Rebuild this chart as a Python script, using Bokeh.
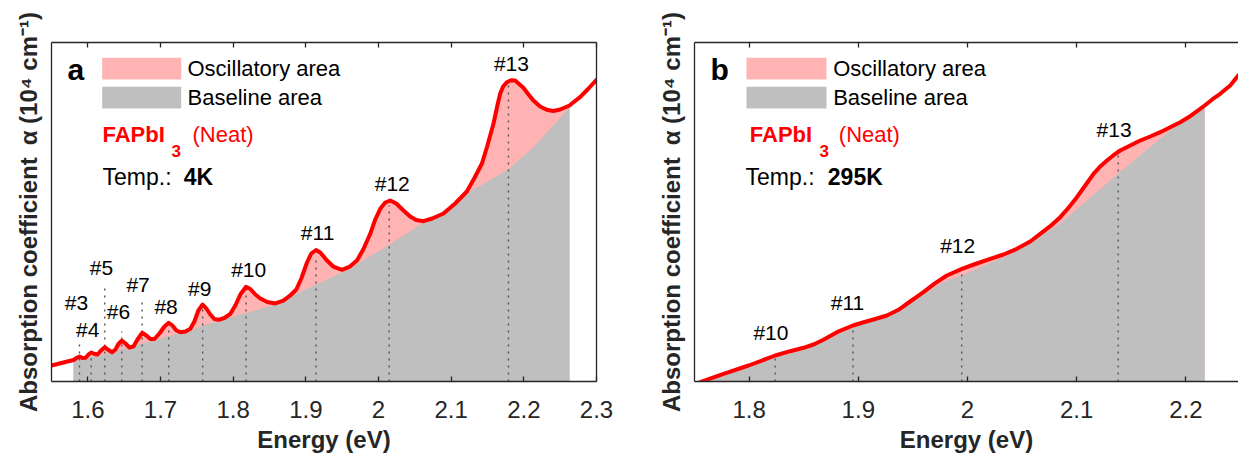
from bokeh.core.properties import value
from bokeh.embed import file_html
from bokeh.layouts import row
from bokeh.models import FixedTicker, Label, LinearAxis, Range1d
from bokeh.plotting import figure
from bokeh.resources import INLINE

# ---------------- panel a : FAPbI3 at 4 K ----------------
energy_4k = [1.5500, 1.5596, 1.5706, 1.5803, 1.5844, 1.5885, 1.5926, 1.5968, 1.6009, 1.6046,
             1.6084, 1.6133, 1.6181, 1.6233, 1.6284, 1.6335, 1.6380, 1.6421, 1.6467, 1.6518,
             1.6573, 1.6628, 1.6683, 1.6747, 1.6806, 1.6861, 1.6916, 1.6985, 1.7054, 1.7113,
             1.7164, 1.7219, 1.7274, 1.7343, 1.7411, 1.7466, 1.7521, 1.7580, 1.7631, 1.7686,
             1.7741, 1.7800, 1.7879, 1.7961, 1.8030, 1.8099, 1.8177, 1.8236, 1.8305, 1.8374,
             1.8470, 1.8580, 1.8690, 1.8786, 1.8869, 1.8938, 1.9016, 1.9075, 1.9140, 1.9199,
             1.9291, 1.9378, 1.9497, 1.9598, 1.9703, 1.9790, 1.9886, 1.9955, 2.0024, 2.0093,
             2.0161, 2.0244, 2.0344, 2.0436, 2.0519, 2.0619, 2.0739, 2.0894, 2.1055, 2.1216,
             2.1316, 2.1422, 2.1495, 2.1582, 2.1633, 2.1674, 2.1715, 2.1766, 2.1825, 2.1880,
             2.1935, 2.1994, 2.2059, 2.2132, 2.2224, 2.2316, 2.2407, 2.2499, 2.2629, 2.2678,
             2.2774, 2.2884, 2.3000]
alpha_4k = [0.472, 0.522, 0.584, 0.634, 0.693, 0.737, 0.693, 0.699, 0.796, 0.855,
            0.817, 0.796, 0.914, 1.012, 0.929, 0.864, 0.944, 1.106, 1.209, 1.121,
            1.003, 1.032, 1.239, 1.437, 1.357, 1.254, 1.254, 1.416, 1.622, 1.732,
            1.652, 1.504, 1.454, 1.475, 1.555, 1.770, 2.094, 2.271, 2.153, 1.976,
            1.844, 1.820, 1.873, 1.997, 2.242, 2.566, 2.794, 2.729, 2.566, 2.448,
            2.345, 2.301, 2.389, 2.537, 2.714, 3.038, 3.510, 3.776, 3.879, 3.805,
            3.569, 3.392, 3.295, 3.378, 3.569, 3.894, 4.357, 4.779, 5.094, 5.280,
            5.339, 5.251, 5.044, 4.867, 4.764, 4.729, 4.808, 4.956, 5.251, 5.605,
            5.988, 6.422, 6.932, 7.602, 8.112, 8.487, 8.702, 8.829, 8.888, 8.879,
            8.776, 8.664, 8.481, 8.289, 8.112, 8.015, 7.979, 8.024, 8.142, 8.230,
            8.386, 8.628, 8.900]
baseline_energy_4k = [1.5803, 1.6174, 1.6628, 1.7095, 1.7549, 1.8003, 1.8470, 1.8580, 1.8924,
                      1.9144, 1.9611, 2.0161, 2.0615, 2.0890, 2.1220, 2.1784, 2.2128, 2.2629]
baseline_alpha_4k = [0.634, 0.767, 1.047, 1.327, 1.622, 1.917, 2.198, 2.286, 2.640,
                     2.861, 3.333, 4.056, 4.680, 4.920, 5.550, 6.254, 6.903, 8.083]
fill_span_4k = (1.5803, 2.2629)
peak_names_4k = ["#3", "#4", "#5", "#6", "#7", "#8", "#9", "#10", "#11", "#12", "#13"]
peak_energy_4k = [1.5885, 1.6046, 1.6233, 1.6467, 1.6747, 1.7113, 1.7580, 1.8177, 1.9140, 2.0147, 2.1788]
peak_guide_top_4k = [1.209, 1.003, 2.891, 1.475, 2.389, 1.593, 2.153, 2.743, 3.717, 5.190, 8.790]
name_energy_4k = [1.5844, 1.5999, 1.6188, 1.6421, 1.6692, 1.7077, 1.7539, 1.8213, 1.9162, 2.0189, 2.1829]
name_alpha_4k = [2.339, 1.534, 3.372, 2.074, 2.861, 2.212, 2.752, 3.295, 4.404, 5.832, 9.372]
ticks_4k = [1.6, 1.7, 1.8, 1.9, 2.0, 2.1, 2.2, 2.3]
tick_labels_4k = ["1.6", "1.7", "1.8", "1.9", "2", "2.1", "2.2", "2.3"]

# ---------------- panel b : FAPbI3 at 295 K ----------------
energy_295k = [1.7552, 1.7766, 1.7995, 1.8117, 1.8239, 1.8376, 1.8498, 1.8590, 1.8681, 1.8804,
               1.8951, 1.9033, 1.9139, 1.9262, 1.9368, 1.9475, 1.9597, 1.9704, 1.9811, 1.9949,
               2.0071, 2.0208, 2.0330, 2.0452, 2.0574, 2.0666, 2.0773, 2.0849, 2.0925, 2.1002,
               2.1078, 2.1154, 2.1215, 2.1277, 2.1337, 2.1398, 2.1490, 2.1582, 2.1673, 2.1765,
               2.1856, 2.1948, 2.2039, 2.2131, 2.2172, 2.2241, 2.2314, 2.2406, 2.2479]
alpha_295k = [-0.021, 0.227, 0.472, 0.619, 0.767, 0.894, 0.994, 1.091, 1.230, 1.454,
              1.652, 1.732, 1.829, 1.947, 2.115, 2.360, 2.634, 2.900, 3.127, 3.324,
              3.466, 3.619, 3.746, 3.914, 4.130, 4.357, 4.622, 4.847, 5.124, 5.437,
              5.782, 6.127, 6.342, 6.519, 6.676, 6.814, 6.962, 7.109, 7.227, 7.354,
              7.501, 7.649, 7.826, 8.044, 8.142, 8.319, 8.487, 8.732, 9.027]
baseline_energy_295k = [1.7552, 1.7766, 1.7995, 1.8239, 1.8560, 1.8951, 1.9109, 1.9292, 1.9597,
                        1.9780, 1.9949, 2.0178, 2.0452, 2.0666, 2.0849, 2.1377, 2.1994, 2.2172]
baseline_alpha_295k = [-0.030, 0.192, 0.428, 0.708, 1.003, 1.593, 1.740, 1.932, 2.552,
                       2.935, 3.127, 3.451, 3.835, 4.277, 4.661, 6.127, 7.773, 8.112]
fill_span_295k = (1.7552, 2.2172)
peak_names_295k = ["#10", "#11", "#12", "#13"]
peak_energy_295k = [1.8239, 1.8951, 1.9947, 2.1380]
peak_guide_top_295k = [0.767, 1.652, 3.324, 6.717]
name_energy_295k = [1.8200, 1.8901, 1.9910, 2.1342]
name_alpha_295k = [1.460, 2.316, 4.012, 7.428]
ticks_295k = [1.8, 1.9, 2.0, 2.1, 2.2]
tick_labels_295k = ["1.8", "1.9", "2", "2.1", "2.2"]

FONT = "Liberation Sans"
INK = "#262626"
RED = "#ff0000"
PINK = "#ffb3b3"
GRAY = "#bfbfbf"
FRAME_H = 339
Y_TOP = 10.0
Y_TITLE = "Absorption coefficient\u2002α (10⁴ cm⁻¹)"


def style_axis(axis):
    axis.axis_line_color = INK
    axis.axis_line_width = 1.3
    axis.major_tick_line_color = INK
    axis.major_tick_line_width = 1.3
    axis.major_tick_in = 5
    axis.major_tick_out = 0
    axis.minor_tick_line_color = INK
    axis.minor_tick_line_width = 1.3
    axis.minor_tick_in = 5
    axis.minor_tick_out = 0


def build_panel(width, border_left, border_right, x_start, x_end, boxed,
                energy, alpha, base_e, base_a, fill_span,
                guide_e, guide_top, names, name_e, name_a, ticks, tick_labels,
                letter, temp_text, spots):
    frame_w = width - border_left - border_right
    p = figure(width=width, height=459, x_range=Range1d(x_start, x_end),
               y_range=Range1d(0, Y_TOP), output_backend="svg", toolbar_location=None,
               min_border_left=border_left, min_border_right=border_right,
               min_border_top=42, min_border_bottom=78,
               x_axis_location=None, y_axis_location=None)
    p.outline_line_color = None
    p.grid.grid_line_color = None
    p.background_fill_color = "white"
    p.border_fill_color = "white"

    # offsets in pixels from the top-left corner of the frame -> data units
    def at(dx, dy):
        return (x_start + dx * (x_end - x_start) / frame_w, (FRAME_H - dy) * Y_TOP / FRAME_H)

    bottom = LinearAxis(ticker=FixedTicker(ticks=ticks),
                        major_label_overrides=dict(zip(ticks, tick_labels)),
                        axis_label="Energy (eV)")
    style_axis(bottom)
    bottom.major_label_text_font = FONT
    bottom.major_label_text_font_size = "24px"
    bottom.major_label_text_color = INK
    bottom.major_label_standoff = 19
    bottom.axis_label_text_font = FONT
    bottom.axis_label_text_font_size = "24px"
    bottom.axis_label_text_font_style = "bold"
    bottom.axis_label_text_color = INK
    bottom.axis_label_standoff = 5
    p.add_layout(bottom, "below")

    # tick marks along the top edge, without labels
    top = LinearAxis(ticker=FixedTicker(ticks=[], minor_ticks=ticks))
    style_axis(top)
    p.add_layout(top, "above")

    left = LinearAxis(ticker=FixedTicker(ticks=[]), axis_label=Y_TITLE)
    style_axis(left)
    left.major_label_standoff = 0
    left.axis_label_text_font = FONT
    left.axis_label_text_font_size = "24px"
    left.axis_label_text_font_style = "bold"
    left.axis_label_text_color = INK
    left.axis_label_standoff = 10
    p.add_layout(left, "left")
    if boxed:
        right = LinearAxis(ticker=FixedTicker(ticks=[]))
        style_axis(right)
        p.add_layout(right, "right")

    # oscillatory (pink) area under the spectrum, baseline (gray) area on top of it
    lo, hi = fill_span
    fx = [e for e in energy if lo <= e <= hi]
    fy = [a for e, a in zip(energy, alpha) if lo <= e <= hi]
    p.varea(x=fx, y1=0, y2=fy, fill_color=PINK)
    p.varea(x=base_e, y1=0, y2=base_a, fill_color=GRAY)

    p.segment(x0=guide_e, y0=[0] * len(guide_e), x1=guide_e, y1=guide_top,
              line_color="#555555", line_width=1.4, line_dash="2 5")
    p.line(energy, alpha, line_color=RED, line_width=4, line_join="round", line_cap="round")
    p.text(x=name_e, y=name_a, text=names, text_font=value(FONT), text_font_size="21px",
           text_align="center", text_baseline="middle", text_color="black")

    # text placed by its baseline (dy, pixels below the frame top); drawn centred on the em box
    def put(dx, dy, text, size, style="normal", color="black"):
        x, y = at(dx, dy - 0.3465 * size)
        p.add_layout(Label(x=x, y=y, text=text, text_font=FONT, text_font_size=f"{size}px",
                           text_font_style=style, text_color=color,
                           text_align="left", text_baseline="middle"))

    # legend swatches and their captions
    sw = spots["swatch"]
    for (top_dy, bot_dy), color in zip([(15.3, 37.0), (44.3, 66.0)], [PINK, GRAY]):
        x0, y0 = at(sw[0], bot_dy)
        x1, y1 = at(sw[1], top_dy)
        p.quad(left=x0, right=x1, bottom=y0, top=y1, fill_color=color, line_color=None)
    put(spots["legend_text"], 33.8, "Oscillatory area", 22)
    put(spots["legend_text"], 63.0, "Baseline area", 22)

    put(16.0, 37.3, letter, 30, style="bold")
    put(spots["formula"][0], 100.0, "FAPbI", 22, style="bold", color=RED)
    put(spots["formula"][1], 114.0, "3", 17, style="bold", color=RED)
    put(spots["formula"][2], 100.0, "(Neat)", 22, color=RED)
    put(spots["temp"][0], 142.0, "Temp.:", 23)
    put(spots["temp"][1], 142.0, temp_text, 23, style="bold")
    return p


panel_a = build_panel(640, 51, 44, 1.55, 2.30, True,
                      energy_4k, alpha_4k, baseline_energy_4k, baseline_alpha_4k, fill_span_4k,
                      peak_energy_4k, peak_guide_top_4k, peak_names_4k,
                      name_energy_4k, name_alpha_4k, ticks_4k, tick_labels_4k,
                      "a", "4K",
                      {"swatch": (50.7, 129.7), "legend_text": 136.0,
                       "formula": (51.0, 120.0, 141.0), "temp": (51.0, 132.3)})

panel_b = build_panel(598, 54, 0, 1.75, 1.75 + 544 / 1092, False,
                      energy_295k, alpha_295k, baseline_energy_295k, baseline_alpha_295k,
                      fill_span_295k, peak_energy_295k, peak_guide_top_295k, peak_names_295k,
                      name_energy_295k, name_alpha_295k, ticks_295k, tick_labels_295k,
                      "b", "295K",
                      {"swatch": (52.0, 132.0), "legend_text": 138.7,
                       "formula": (55.3, 125.0, 144.3), "temp": (51.0, 133.3)})

layout = row(panel_a, panel_b)
open("out.html", "w").write(file_html(layout, INLINE))
